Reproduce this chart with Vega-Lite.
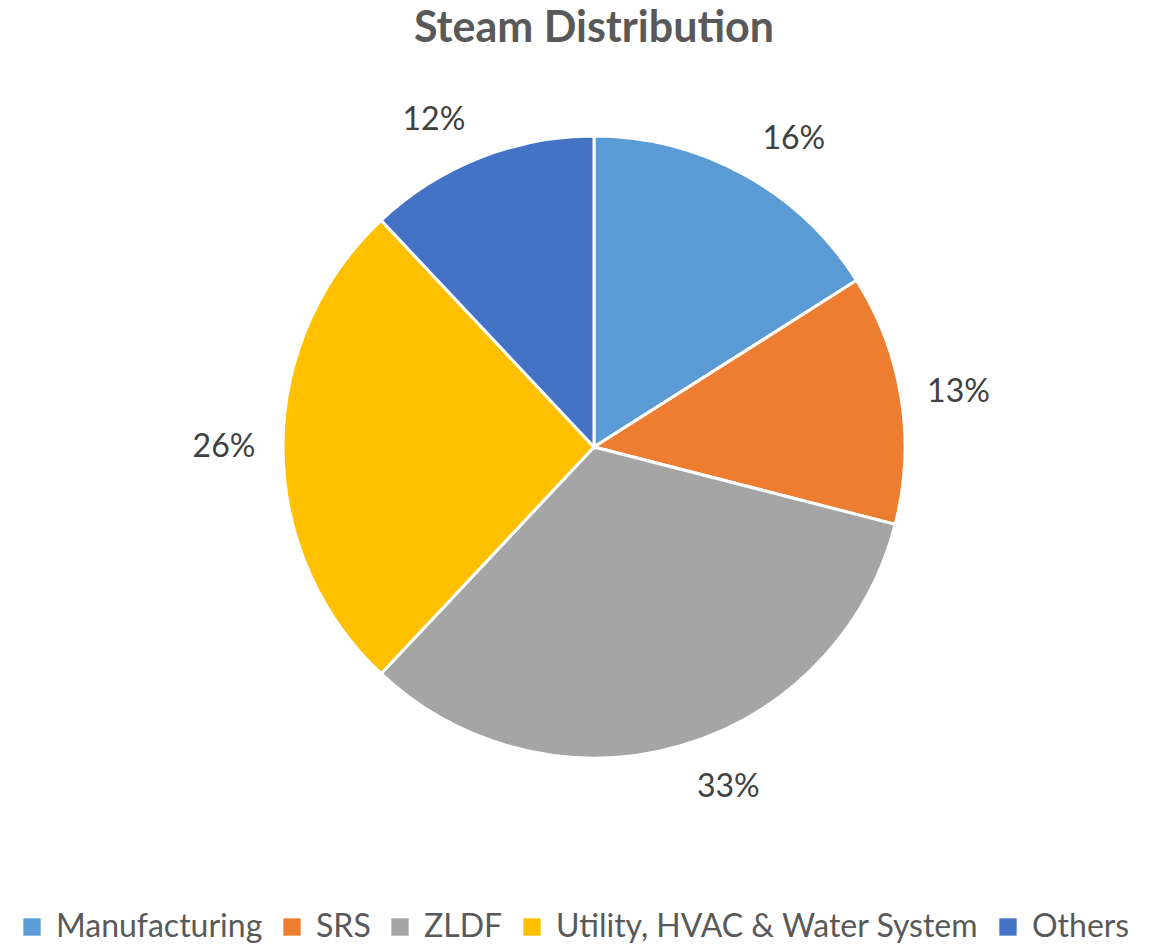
{
  "$schema": "https://vega.github.io/schema/vega-lite/v6.json",
  "autosize": "none",
  "width": 1188,
  "height": 734,
  "padding": {"left": 0, "top": 80, "right": 0, "bottom": 134},
  "background": "white",
  "title": {"text": "Steam Distribution", "font": "Lato", "fontSize": 43, "fontWeight": "bold", "color": "#595959", "anchor": "middle", "offset": 27},
  "data": {"values": [
    {"category": "Manufacturing", "value": 16, "label": "16%", "idx": 1},
    {"category": "SRS", "value": 13, "label": "13%", "idx": 2},
    {"category": "ZLDF", "value": 33, "label": "33%", "idx": 3},
    {"category": "Utility, HVAC & Water System", "value": 26, "label": "26%", "idx": 4},
    {"category": "Others", "value": 12, "label": "12%", "idx": 5}
  ]},
  "encoding": {
    "theta": {"field": "value", "type": "quantitative", "stack": true},
    "order": {"field": "idx", "type": "quantitative"},
    "color": {
      "field": "category", "type": "nominal",
      "scale": {"domain": ["Manufacturing", "SRS", "ZLDF", "Utility, HVAC & Water System", "Others"],
                "range": ["#5B9BD5", "#ED7D31", "#A5A5A5", "#FFC000", "#4472C4"]},
      "legend": {"orient": "none", "legendX": 16, "legendY": 831, "direction": "horizontal", "title": null,
                 "symbolType": "square", "symbolSize": 300, "symbolStrokeWidth": 0,
                 "labelFont": "Lato", "labelFontSize": 32, "labelColor": "#595959", "labelLimit": 700,
                 "columnPadding": 13, "labelOffset": 8, "padding": 0}
    }
  },
  "layer": [
    {"mark": {"type": "arc", "outerRadius": 311, "stroke": "white", "strokeWidth": 3}},
    {"mark": {"type": "text", "radius": 367, "dx": 23, "dy": 14, "font": "Lato", "fontSize": 32, "align": "center", "baseline": "middle"},
     "encoding": {"text": {"condition": {"test": "datum.idx == 1", "field": "label"}, "value": ""}, "color": {"value": "#404040"}}},
    {"mark": {"type": "text", "radius": 367, "dx": 2, "dy": 2, "font": "Lato", "fontSize": 32, "align": "center", "baseline": "middle"},
     "encoding": {"text": {"condition": {"test": "datum.idx == 2", "field": "label"}, "value": ""}, "color": {"value": "#404040"}}},
    {"mark": {"type": "text", "radius": 367, "dx": 32, "dy": -12, "font": "Lato", "fontSize": 32, "align": "center", "baseline": "middle"},
     "encoding": {"text": {"condition": {"test": "datum.idx == 3", "field": "label"}, "value": ""}, "color": {"value": "#404040"}}},
    {"mark": {"type": "text", "radius": 367, "dx": -3, "dy": 0, "font": "Lato", "fontSize": 32, "align": "center", "baseline": "middle"},
     "encoding": {"text": {"condition": {"test": "datum.idx == 4", "field": "label"}, "value": ""}, "color": {"value": "#404040"}}},
    {"mark": {"type": "text", "radius": 367, "dx": -25, "dy": 14, "font": "Lato", "fontSize": 32, "align": "center", "baseline": "middle"},
     "encoding": {"text": {"condition": {"test": "datum.idx == 5", "field": "label"}, "value": ""}, "color": {"value": "#404040"}}}
  ],
  "config": {"view": {"stroke": null}}
}
